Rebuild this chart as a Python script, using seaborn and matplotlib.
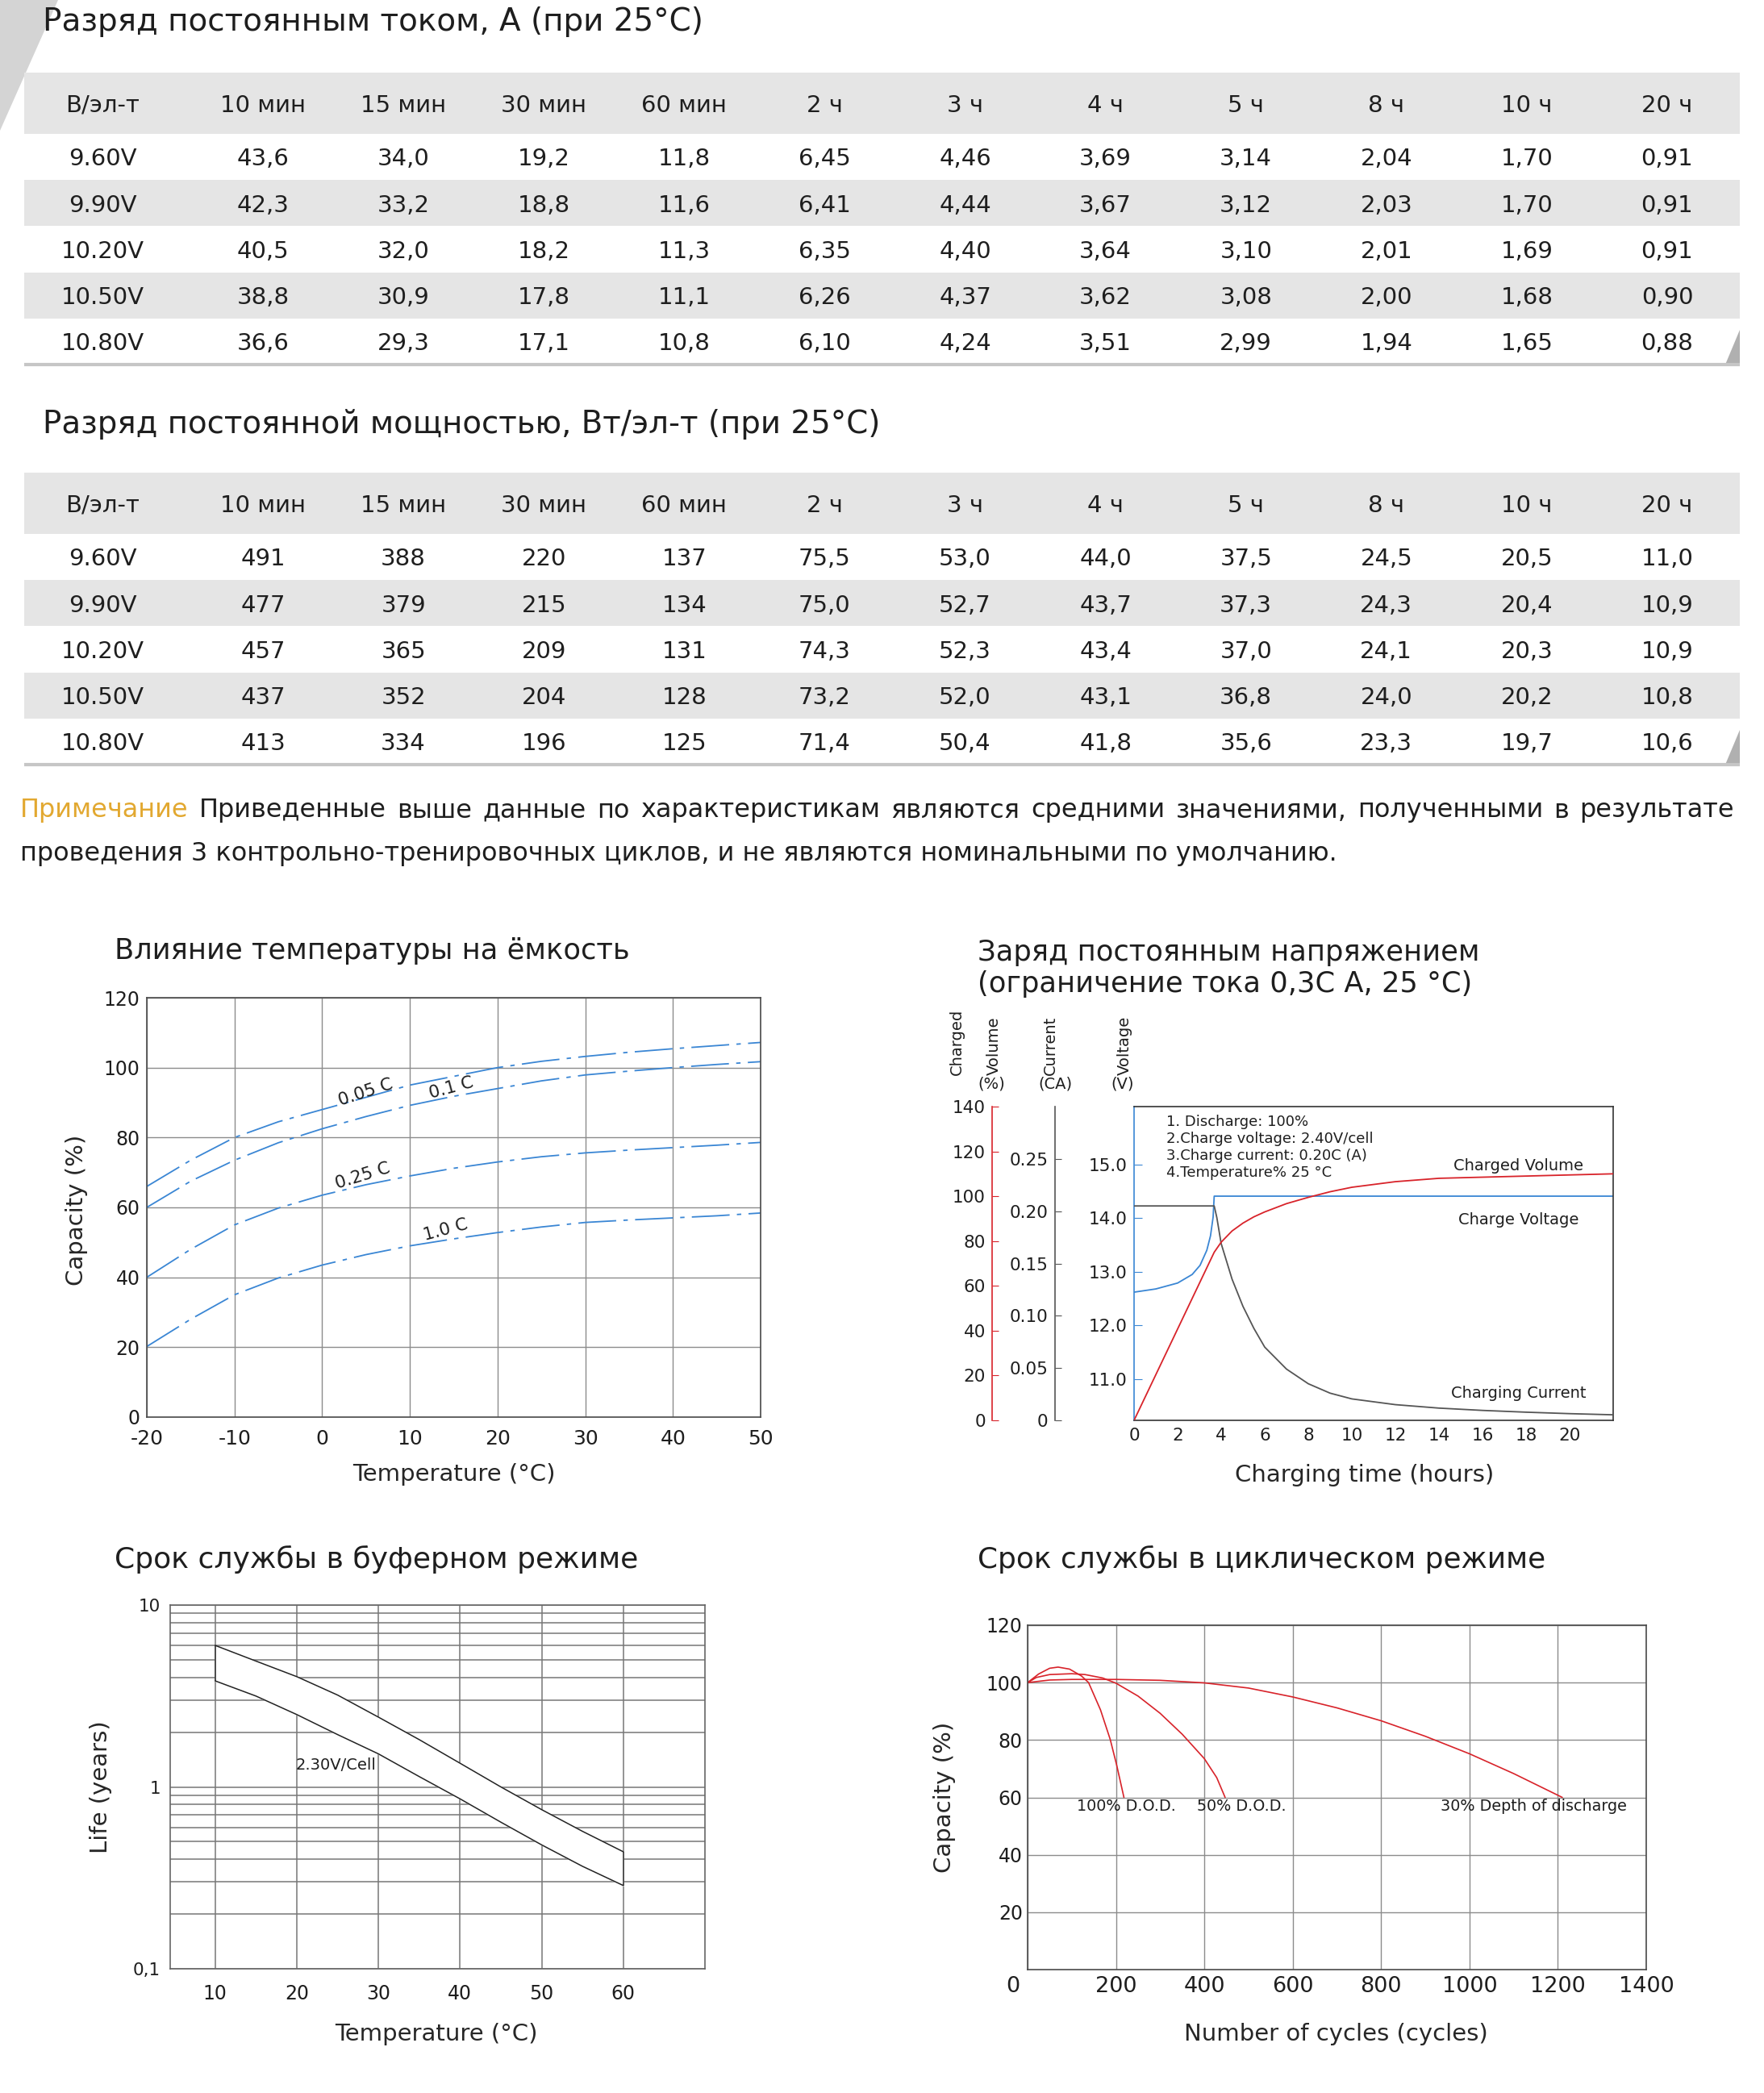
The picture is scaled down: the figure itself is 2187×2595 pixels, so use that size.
#!/usr/bin/env python
# -*- coding: utf-8 -*-

"""
* Datasheet page - discharge tables and four characteristic charts
"""

import numpy as np
import matplotlib
matplotlib.use("Agg")
import matplotlib.pyplot as plt
from matplotlib.patches import Polygon
from matplotlib.transforms import ScaledTranslation
import seaborn as sns

# ---------------- data ----------------
periods = ["10 мин", "15 мин", "30 мин", "60 мин", "2 ч", "3 ч", "4 ч", "5 ч", "8 ч", "10 ч", "20 ч"]
cutoff_volts = ["9.60V", "9.90V", "10.20V", "10.50V", "10.80V"]

# constant current discharge, A
current_rows = [
    [43.6, 34.0, 19.2, 11.8, 6.45, 4.46, 3.69, 3.14, 2.04, 1.70, 0.91],
    [42.3, 33.2, 18.8, 11.6, 6.41, 4.44, 3.67, 3.12, 2.03, 1.70, 0.91],
    [40.5, 32.0, 18.2, 11.3, 6.35, 4.40, 3.64, 3.10, 2.01, 1.69, 0.91],
    [38.8, 30.9, 17.8, 11.1, 6.26, 4.37, 3.62, 3.08, 2.00, 1.68, 0.90],
    [36.6, 29.3, 17.1, 10.8, 6.10, 4.24, 3.51, 2.99, 1.94, 1.65, 0.88],
]
# constant power discharge, W/cell
power_rows = [
    [491, 388, 220, 137, 75.5, 53.0, 44.0, 37.5, 24.5, 20.5, 11.0],
    [477, 379, 215, 134, 75.0, 52.7, 43.7, 37.3, 24.3, 20.4, 10.9],
    [457, 365, 209, 131, 74.3, 52.3, 43.4, 37.0, 24.1, 20.3, 10.9],
    [437, 352, 204, 128, 73.2, 52.0, 43.1, 36.8, 24.0, 20.2, 10.8],
    [413, 334, 196, 125, 71.4, 50.4, 41.8, 35.6, 23.3, 19.7, 10.6],
]

# temperature vs capacity
temp_c = [-20, -15, -10, -5, 0, 5, 10, 15, 20, 25, 30, 35, 40, 45, 50]
cap_005c = [66, 73.5, 80, 84.5, 88, 91.5, 95, 97.5, 100, 101.8, 103.2, 104.4, 105.4, 106.3, 107.2]
cap_01c = [60, 67.5, 73.5, 78.5, 82.5, 86, 89.2, 91.8, 94, 96.2, 97.9, 99, 100, 100.9, 101.7]
cap_025c = [40, 48, 55, 59.8, 63.5, 66.5, 69, 71.2, 73, 74.5, 75.6, 76.4, 77.1, 77.8, 78.6]
cap_10c = [20.2, 28, 35, 39.8, 43.5, 46.5, 49, 51, 52.8, 54.4, 55.7, 56.4, 57, 57.6, 58.4]

# constant voltage charge
volt_hours = [0, 1, 2, 2.67, 3.03, 3.34, 3.51, 3.63, 3.68, 22]
charge_voltage = [12.62, 12.68, 12.79, 12.95, 13.12, 13.4, 13.67, 14.02, 14.41, 14.41]
cur_hours = [0, 3.68, 3.8, 4, 4.5, 5, 5.5, 6, 7, 8, 9, 10, 12, 14, 16, 18, 20, 22]
charge_current = [0.205, 0.205, 0.194, 0.169, 0.135, 0.109, 0.088, 0.070, 0.049, 0.035,
                  0.026, 0.0205, 0.015, 0.0117, 0.0095, 0.0078, 0.0064, 0.0053]
vol_hours = [0, 3.68, 4, 4.5, 5, 5.5, 6, 7, 8, 9, 10, 12, 14, 16, 18, 20, 22]
charged_volume = [0, 75, 79.5, 84.5, 88, 90.8, 93, 96.7, 99.5, 102, 104, 106.5, 108, 108.5, 109, 109.5, 110]

# float service life
float_temp = [10, 15, 20, 25, 30, 35, 40, 45, 50, 55, 60]
life_upper = [6.0, 4.92, 4.04, 3.2, 2.42, 1.82, 1.35, 1.0, 0.75, 0.57, 0.44]
life_lower = [3.83, 3.16, 2.5, 1.94, 1.52, 1.14, 0.86, 0.64, 0.48, 0.366, 0.287]

# cycle service life
cyc_dod100 = [0, 25, 50, 69, 95, 122, 138, 165, 187, 202, 218]
cap_dod100 = [100, 103, 105, 105.4, 104.7, 102.3, 100, 90.5, 80.2, 71, 60]
cyc_dod50 = [0, 20, 50, 100, 130, 170, 200, 250, 300, 350, 400, 428, 447]
cap_dod50 = [100, 101.8, 102.8, 103.1, 102.8, 101.6, 99.8, 95.3, 89.3, 82, 73.5, 66.9, 60]
cyc_dod30 = [0, 50, 100, 200, 300, 400, 500, 600, 700, 800, 900, 1000, 1100, 1210]
cap_dod30 = [100, 100.9, 101.1, 101.1, 100.8, 99.9, 98.1, 95, 91.2, 86.7, 81.3, 75.2, 68.3, 60]

note_line1 = "Примечание Приведенные выше данные по характеристикам являются средними значениями, полученными в результате"
note_line2 = "проведения 3 контрольно-тренировочных циклов, и не являются номинальными по умолчанию."

# ---------------- style ----------------
W, H, DPI = 2187, 2595, 100
TXT = "#1e1e1e"
BLUE = "#3a86d4"
RED = "#d8232a"
GRID = "#8c8c8c"
SPINE = "#4a4a4a"
BAND = "#e5e5e5"
GOLD = "#e2a830"

sns.set_style("white")
plt.rcParams["font.family"] = ["DejaVu Sans"]
plt.rcParams["axes.unicode_minus"] = False
plt.rcParams["text.color"] = TXT
plt.rcParams["xtick.color"] = TXT
plt.rcParams["ytick.color"] = TXT

fig = plt.figure(figsize=(W / DPI, H / DPI), dpi=DPI)
fig.patch.set_facecolor("white")
renderer = fig.canvas.get_renderer()

# page-wide axes in pixel coordinates for titles and decorations
deco = fig.add_axes([0, 0, 1, 1], zorder=-5)
deco.set_xlim(0, W)
deco.set_ylim(H, 0)
deco.axis("off")


def px_rect(x0, y0, x1, y1):
    return [x0 / W, 1 - y1 / H, (x1 - x0) / W, (y1 - y0) / H]


def fit_text(x, y, s, width, **kw):
    """ Put text at pixel position and scale its size to a target width """
    t = deco.text(x, y, s, fontsize=20, **kw)
    w = t.get_window_extent(renderer=renderer).width
    t.set_fontsize(20 * width / w)
    return t


# ---------------- tables ----------------
ROW_PX = 57.3
HEADER_ROWS = 1.32


def fmt_current(v):
    return (f"{v:.1f}" if v >= 10 else f"{v:.2f}").replace(".", ",")


def fmt_power(v):
    return (f"{v:.0f}" if v >= 100 else f"{v:.1f}").replace(".", ",")


def draw_table(top, rows, fmt):
    n = len(rows)
    span = HEADER_ROWS + n + 0.1
    ax = fig.add_axes(px_rect(30, top, 2157, top + span * ROW_PX))
    ax.set_xlim(30, 2157)
    ax.set_ylim(span, 0)
    ax.axis("off")
    col_x = [127] + [326 + 174.1 * i for i in range(len(periods))]
    ax.axhspan(0, HEADER_ROWS, color=BAND, lw=0)
    kw = dict(ha="center", va="center_baseline", fontsize=21, color=TXT)
    ax.text(col_x[0], HEADER_ROWS / 2, "В/эл-т", **kw)
    for i, p in enumerate(periods):
        ax.text(col_x[i + 1], HEADER_ROWS / 2, p, **kw)
    for r, (volt, vals) in enumerate(zip(cutoff_volts, rows)):
        if r % 2:
            ax.axhspan(HEADER_ROWS + r, HEADER_ROWS + r + 1, color=BAND, lw=0)
        y = HEADER_ROWS + r + 0.5
        ax.text(col_x[0], y, volt, **kw)
        for i, v in enumerate(vals):
            ax.text(col_x[i + 1], y, fmt(v), **kw)
    ax.axhline(HEADER_ROWS + n, color="#c6c6c6", lw=3)
    bottom = top + (HEADER_ROWS + n) * ROW_PX
    deco.add_patch(Polygon([(31, top), (53, top), (32, top + 48)], closed=True, color="#e3ad0c", lw=0))
    deco.add_patch(Polygon([(2157, bottom - 43), (2157, bottom), (2139, bottom)], closed=True,
                           color="#b0b0b0", lw=0))


# corner decoration
deco.add_patch(Polygon([(0, 0), (72, 0), (0, 162)], closed=True, color="#d4d4d4", lw=0))

fit_text(53, 27, "Разряд постоянным током, А (при 25°C)", 817, va="center")
draw_table(90, current_rows, fmt_current)
fit_text(53, 526, "Разряд постоянной мощностью, Вт/эл-т (при 25°C)", 1038, va="center")
draw_table(586, power_rows, fmt_power)

# note, first line justified
t2 = fit_text(25, 1058, note_line2, 1635, va="center")
note_size = t2.get_fontsize()
words = note_line1.split()
texts = [deco.text(0, 1005, w, fontsize=note_size, va="center",
                   color=GOLD if i == 0 else TXT) for i, w in enumerate(words)]
widths = [t.get_window_extent(renderer=renderer).width for t in texts]
gap = (2150 - 25 - sum(widths)) / (len(words) - 1)
x = 25
for t, w in zip(texts, widths):
    t.set_x(x)
    x += w + gap


def style_box(ax, color=SPINE):
    for s in ax.spines.values():
        s.set_color(color)
        s.set_linewidth(1.2)


# ---------------- chart 1: temperature vs capacity ----------------
fit_text(141.5, 1179, "Влияние температуры на ёмкость", 636, va="center")
ax1 = fig.add_axes(px_rect(182, 1237, 943, 1757))
dashdot = (0, (26, 5, 3, 5))
for vals in (cap_005c, cap_01c, cap_025c, cap_10c):
    sns.lineplot(x=temp_c, y=vals, ax=ax1, color=BLUE, lw=1.3, linestyle=dashdot, errorbar=None)
ax1.set_xlim(-20, 50)
ax1.set_ylim(0, 120)
ax1.set_xticks(range(-20, 51, 10))
ax1.set_yticks(range(0, 121, 20))
ax1.grid(True, color=GRID, lw=1)
ax1.tick_params(axis="x", length=0, labelsize=18, pad=11)
ax1.tick_params(axis="y", length=0, labelsize=17, pad=6)
style_box(ax1)
curve_labels = [("0.05 C", 5.0, 92.9, 18), ("0.1 C", 14.7, 94.2, 15),
                ("0.25 C", 4.6, 69.0, 17), ("1.0 C", 14.1, 53.6, 15)]
for s, cx, cy, rot in curve_labels:
    ax1.text(cx, cy, s, fontsize=15.5, rotation=rot, rotation_mode="anchor",
             ha="center", va="center", color=TXT)
ax1.set_xlabel("Temperature (°C)", fontsize=21, va="center")
ax1.xaxis.set_label_coords(0.5, -0.1365)
ax1.set_ylabel("Capacity (%)", fontsize=21, va="center")
ax1.yaxis.set_label_coords(-0.114, 0.494)

# ---------------- chart 2: constant voltage charge ----------------
fit_text(1212, 1181, "Заряд постоянным напряжением", 620, va="center")
deco.text(1212, 1220, "(ограничение тока 0,3С А, 25 °С)", va="center",
          fontsize=deco.texts[-1].get_fontsize())
ax2 = fig.add_axes(px_rect(1406, 1372, 2000, 1761))
ax2_cur = ax2.twinx()
ax2_vol = ax2.twinx()
sns.lineplot(x=volt_hours, y=charge_voltage, ax=ax2, color=BLUE, lw=1.3, errorbar=None, sort=False)
sns.lineplot(x=cur_hours, y=charge_current, ax=ax2_cur, color="#555555", lw=1.3, errorbar=None, sort=False)
sns.lineplot(x=vol_hours, y=charged_volume, ax=ax2_vol, color=RED, lw=1.3, errorbar=None, sort=False)
ax2.set_xlim(0, 22)
ax2.set_ylim(10.23, 16.08)
ax2_cur.set_ylim(0, 0.3)
ax2_vol.set_ylim(0, 140)
ax2.set_xticks(range(0, 21, 2))
volt_ticks = [11, 12, 13, 14, 15]
ax2.set_yticks(volt_ticks, [f"{v:.1f}" for v in volt_ticks])
cur_ticks = [0, 0.05, 0.10, 0.15, 0.20, 0.25]
ax2_cur.set_yticks(cur_ticks, ["0"] + [f"{v:.2f}" for v in cur_ticks[1:]])
ax2_vol.set_yticks(range(0, 141, 20))
style_box(ax2, "#333333")
ax2.spines["left"].set_color(BLUE)
ax2.tick_params(axis="x", length=0, labelsize=15.5, pad=6.5)
ax2.tick_params(axis="y", direction="in", length=7, color=BLUE, labelsize=15.5, pad=6)
for tw, pos, col in [(ax2_cur, -0.165, "#555555"), (ax2_vol, -0.296, RED)]:
    tw.spines[["top", "right", "bottom"]].set_visible(False)
    tw.spines["left"].set_visible(True)
    tw.spines["left"].set_position(("axes", pos))
    tw.spines["left"].set_color(col)
    tw.spines["left"].set_linewidth(1.2)
    tw.yaxis.set_ticks_position("left")
    tw.tick_params(axis="y", direction="in", length=6, color=col, labelsize=15.5, pad=6)
    tw.set_ylabel("")
notes = ["1. Discharge: 100%", "2.Charge voltage: 2.40V/cell",
         "3.Charge current: 0.20C (A)", "4.Temperature% 25 °C"]
for i, s in enumerate(notes):
    ax2.text(0.067, 0.951 - 0.054 * i, s, transform=ax2.transAxes, fontsize=13, va="center")
for s, yy in [("Charged Volume", 0.812), ("Charge Voltage", 0.64), ("Charging Current", 0.087)]:
    ax2.text(0.803, yy, s, transform=ax2.transAxes, fontsize=14, ha="center", va="center")
for s, xx in [("Charged", 1186), ("Volume", 1232), ("Current", 1302), ("Voltage", 1394)]:
    deco.text(xx, 1333, s, rotation=90, ha="center", va="bottom", fontsize=14)
for s, xx in [("(%)", 1229), ("(CA)", 1308), ("(V)", 1392)]:
    deco.text(xx, 1344, s, ha="center", va="center", fontsize=14)
ax2.set_xlabel("Charging time (hours)", fontsize=21, va="center")
ax2.xaxis.set_label_coords(0.481, -0.175)

# ---------------- chart 3: float life ----------------
fit_text(142, 1933, "Срок службы в буферном режиме", 648, va="center")
ax3 = fig.add_axes(px_rect(211, 1990, 874, 2441))
ax3.set_yscale("log")
ax3.fill_between(float_temp, life_lower, life_upper, color="white", zorder=2)
sns.lineplot(x=float_temp, y=life_upper, ax=ax3, color="#222222", lw=1.1, errorbar=None, zorder=3)
sns.lineplot(x=float_temp, y=life_lower, ax=ax3, color="#222222", lw=1.1, errorbar=None, zorder=3)
ax3.vlines([float_temp[0], float_temp[-1]], [life_lower[0], life_lower[-1]],
           [life_upper[0], life_upper[-1]], color="#222222", lw=1.1, zorder=3)
ax3.set_xlim(4.5, 70)
ax3.set_ylim(0.1, 10)
ax3.set_xticks(range(10, 61, 10))
ax3.set_yticks([0.1, 1, 10], ["0,1", "1", "10"])
ax3.yaxis.set_minor_locator(matplotlib.ticker.LogLocator(subs=range(2, 10)))
ax3.yaxis.set_minor_formatter(matplotlib.ticker.NullFormatter())
ax3.grid(True, which="both", color="#777777", lw=1.1)
ax3.tick_params(which="both", length=0)
ax3.tick_params(axis="x", labelsize=17, pad=13.5)
ax3.tick_params(axis="y", labelsize=15.5, pad=8.5)
style_box(ax3, "#666666")
ax3.text(19.9, 1.32, "2.30V/Cell", fontsize=14, va="center", ha="left")
ax3.set_xlabel("Temperature (°C)", fontsize=21, va="center")
ax3.xaxis.set_label_coords(0.498, -0.18)
ax3.set_ylabel("Life (years)", fontsize=21, va="center")
ax3.yaxis.set_label_coords(-0.13, 0.499)

# ---------------- chart 4: cycle life ----------------
fit_text(1212, 1933, "Срок службы в циклическом режиме", 703, va="center")
ax4 = fig.add_axes(px_rect(1274, 2015, 2041, 2442))
for cyc, cap in [(cyc_dod100, cap_dod100), (cyc_dod50, cap_dod50), (cyc_dod30, cap_dod30)]:
    sns.lineplot(x=cyc, y=cap, ax=ax4, color=RED, lw=1.2, errorbar=None)
ax4.set_xlim(0, 1400)
ax4.set_ylim(0, 120)
ax4.set_xticks(range(0, 1401, 200))
ax4.set_yticks(range(20, 121, 20))
ax4.grid(True, color=GRID, lw=1)
ax4.tick_params(length=0)
ax4.tick_params(axis="x", labelsize=19.5, pad=6)
ax4.tick_params(axis="y", labelsize=17, pad=4.5)
style_box(ax4)
for s, cx in [("100% D.O.D.", 111), ("50% D.O.D.", 383), ("30% Depth of discharge", 934)]:
    ax4.text(cx, 56.8, s, fontsize=13.8, va="center", ha="left")
ax4.set_xlabel("Number of cycles (cycles)", fontsize=21, va="center")
ax4.xaxis.set_label_coords(0.499, -0.187)
ax4.set_ylabel("Capacity (%)", fontsize=21, va="center")
ax4.yaxis.set_label_coords(-0.134, 0.501)
zero_lab = ax4.get_xticklabels()[0]
zero_lab.set_transform(zero_lab.get_transform() + ScaledTranslation(-0.18, 0, fig.dpi_scale_trans))

fig.savefig("out.png", dpi=DPI, facecolor="white")
